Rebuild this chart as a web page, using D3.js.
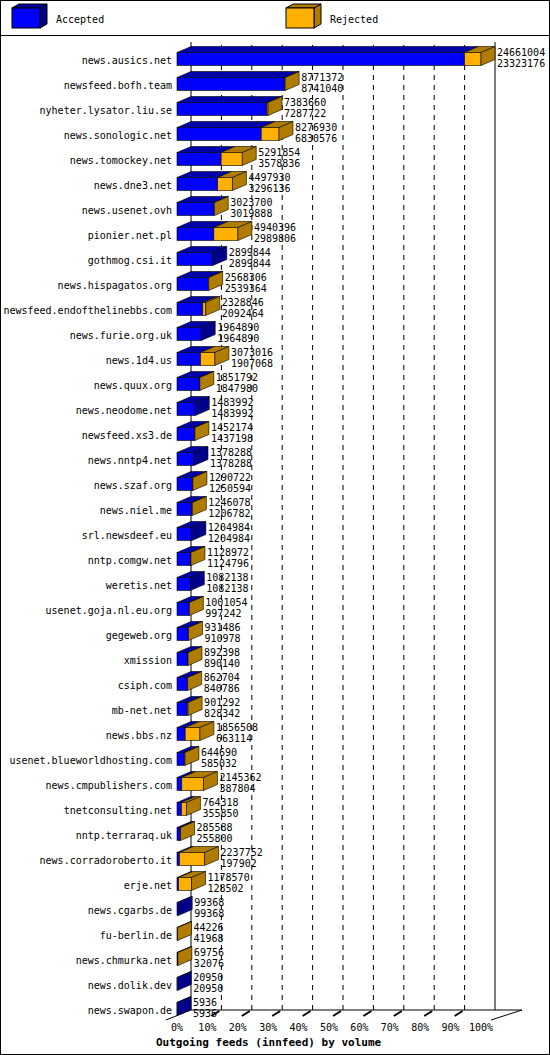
<!DOCTYPE html><html><head><meta charset="utf-8"><script src="https://cdn.jsdelivr.net/npm/d3@7"></script>
<style>body{margin:0;background:#fff}</style></head><body><svg id="c" width="550" height="1055"></svg>
<script>
const hosts=["news.ausics.net","newsfeed.bofh.team","nyheter.lysator.liu.se","news.sonologic.net","news.tomockey.net","news.dne3.net","news.usenet.ovh","pionier.net.pl","gothmog.csi.it","news.hispagatos.org","newsfeed.endofthelinebbs.com","news.furie.org.uk","news.1d4.us","news.quux.org","news.neodome.net","newsfeed.xs3.de","news.nntp4.net","news.szaf.org","news.niel.me","srl.newsdeef.eu","nntp.comgw.net","weretis.net","usenet.goja.nl.eu.org","gegeweb.org","xmission","csiph.com","mb-net.net","news.bbs.nz","usenet.blueworldhosting.com","news.cmpublishers.com","tnetconsulting.net","nntp.terraraq.uk","news.corradoroberto.it","erje.net","news.cgarbs.de","fu-berlin.de","news.chmurka.net","news.dolik.dev","news.swapon.de"];
const offered=[24661004,8771372,7383660,8276930,5291854,4497930,3023700,4940396,2899844,2568306,2328846,1964890,3073016,1851792,1483992,1452174,1378288,1290722,1246078,1204984,1128972,1082138,1001054,931486,892398,862704,901292,1856508,644690,2145362,764318,285588,2237752,1178570,99368,44226,69756,20950,5936];
const accepted=[23323176,8741040,7287722,6830576,3578836,3296136,3019888,2989806,2899844,2539364,2092464,1964890,1907068,1847980,1483992,1437198,1378288,1250594,1206782,1204984,1124796,1082138,997242,910978,890140,840786,828342,663114,585032,387804,355850,255800,197902,128502,99368,41968,32076,20950,5936];
const ticks=d3.range(0,101,10);
const svg=d3.select("#c"),F="'DejaVu Sans Mono',monospace";
const dx=14,dy=-6,x0=177,W=304;
const x=d3.scaleLinear().domain([0,d3.max(offered)]).range([x0,x0+W]);
const xp=d3.scaleLinear().domain([0,100]).range([x0,x0+W]);
const y=d3.scaleBand().domain(hosts).range([47,1022]);
svg.append("rect").attr("x",0.5).attr("y",0.5).attr("width",549).attr("height",1054).attr("fill","#fff").attr("stroke","#000");
svg.append("line").attr("x1",0).attr("x2",550).attr("y1",35.5).attr("y2",35.5).attr("stroke","#000");
function box(g,xa,xb,yc,front,top){
  const t=yc-7,b=yc+6;
  g.append("polygon").attr("points",`${xa},${t} ${xa+dx},${t+dy} ${xb+dx},${t+dy} ${xb},${t}`).attr("fill",top).attr("stroke","#000").attr("stroke-width",0.6);
  g.append("rect").attr("x",xa).attr("y",t).attr("width",Math.max(0,xb-xa)).attr("height",b-t).attr("fill",front).attr("stroke","#000").attr("stroke-width",0.6);
}
function side(g,xb,yc,c){const t=yc-7,b=yc+6;
  g.append("polygon").attr("points",`${xb},${t} ${xb+dx},${t+dy} ${xb+dx},${b+dy} ${xb},${b}`).attr("fill",c).attr("stroke","#000").attr("stroke-width",0.6);}
const lg=svg.append("g");
[[12,"Accepted","#0000ff","#00008b","#0000a8"],[286,"Rejected","#ffb000","#b07c00","#b07c00"]].forEach(([lx,t,f,d,tp])=>{
  lg.append("polygon").attr("points",`${lx+28},8 ${lx+35},4 ${lx+35},24 ${lx+28},28`).attr("fill",d).attr("stroke","#000");
  lg.append("polygon").attr("points",`${lx},8 ${lx+7},4 ${lx+35},4 ${lx+28},8`).attr("fill",tp).attr("stroke","#000");
  lg.append("rect").attr("x",lx).attr("y",8).attr("width",28).attr("height",20).attr("fill",f).attr("stroke","#000");
  lg.append("text").attr("x",lx+44).attr("y",23).attr("font-family",F).attr("font-size",10).text(t);
});
const bx=x0+dx,by=1016+dy;
svg.append("line").attr("x1",bx).attr("x2",bx).attr("y1",42).attr("y2",by).attr("stroke","#000");
svg.append("line").attr("x1",bx+W).attr("x2",bx+W).attr("y1",42).attr("y2",by).attr("stroke","#000");
ticks.slice(1,10).forEach(p=>svg.append("line").attr("x1",xp(p)+dx).attr("x2",xp(p)+dx).attr("y1",45).attr("y2",by).attr("stroke","#000").attr("stroke-dasharray","5,5"));
svg.append("line").attr("x1",bx).attr("x2",bx+W+27).attr("y1",by).attr("y2",by).attr("stroke","#000");
svg.append("line").attr("x1",166).attr("x2",bx).attr("y1",1020).attr("y2",by).attr("stroke","#000");
svg.append("line").attr("x1",bx+W+27).attr("x2",xp(100)+10).attr("y1",by).attr("y2",1020).attr("stroke","#000");
ticks.slice(1,10).forEach(p=>svg.append("line").attr("x1",xp(p)+4).attr("x2",xp(p)+12).attr("y1",1016).attr("y2",by+1).attr("stroke","#000").attr("stroke-width",2));
ticks.forEach(p=>svg.append("text").attr("x",xp(p)).attr("y",1031).attr("text-anchor","middle").attr("font-family",F).attr("font-size",10).text(p+"%"));
svg.append("text").attr("x",156).attr("y",1046).attr("font-family",F).attr("font-size",11).attr("font-weight","bold").text("Outgoing feeds (innfeed) by volume");
hosts.forEach((h,i)=>{
  const yc=y(h)+y.bandwidth()/2,g=svg.append("g");
  const xa=x(accepted[i]),xo=x(offered[i]);
  box(g,x0,xa,yc,"#0000ff","#0000a8");
  if(offered[i]>accepted[i]){box(g,xa,xo,yc,"#ffb000","#b07c00");side(g,xo,yc,"#b07c00");}
  else side(g,xo,yc,"#00008b");
  g.append("text").attr("x",x0-5).attr("y",yc+4).attr("text-anchor","end").attr("font-family",F).attr("font-size",10).text(h);
  g.append("text").attr("x",xo+dx+2).attr("y",yc-4).attr("font-family",F).attr("font-size",10).text(offered[i]);
  g.append("text").attr("x",xo+dx+2).attr("y",yc+7).attr("font-family",F).attr("font-size",10).text(accepted[i]);
});
</script></body></html>
